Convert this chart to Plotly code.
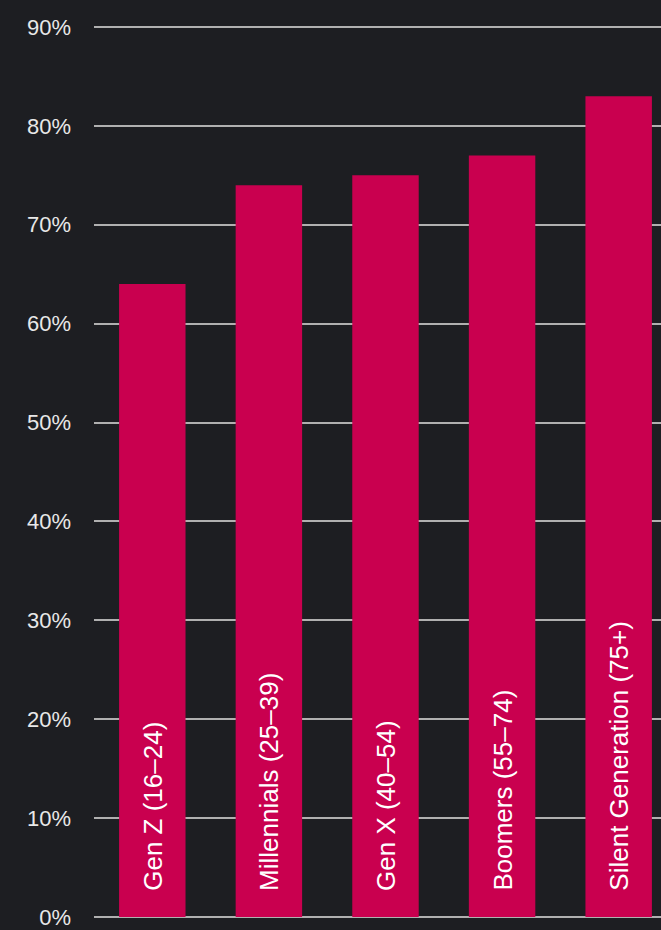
import plotly.graph_objects as go

categories = ["Gen Z (16–24)", "Millennials (25–39)", "Gen X (40–54)", "Boomers (55–74)", "Silent Generation (75+)"]
values = [64, 74, 75, 77, 83]
tick_vals = [0, 10, 20, 30, 40, 50, 60, 70, 80, 90]
tick_text = [f"{v}%" for v in tick_vals]

BG = "#1d1e22"
BAR = "#c9004f"
GRID = "#b0b0b0"
FONT = "Liberation Sans, Arial, sans-serif"

fig = go.Figure()
fig.add_trace(go.Bar(
    x=list(range(len(categories))),
    y=values,
    marker=dict(color=BAR, line=dict(width=0)),
    hoverinfo="skip",
))

for i, c in enumerate(categories):
    fig.add_annotation(
        x=i, y=0, xref="x", yref="y",
        text=c, showarrow=False, textangle=-90,
        xanchor="center", yanchor="bottom", yshift=24,
        font=dict(family=FONT, size=26, color="#ffffff"),
    )

fig.update_layout(
    width=661, height=930,
    margin=dict(l=94, r=0, t=25, b=8),
    paper_bgcolor=BG, plot_bgcolor=BG,
    bargap=0.43,
    showlegend=False,
    font=dict(family=FONT, color="#e8e8e8"),
)
fig.update_xaxes(
    range=[-0.5, 4.363], showticklabels=False, showgrid=False,
    zeroline=False, showline=False, ticks="",
)
fig.update_yaxes(
    range=[0, 90.2], tickvals=tick_vals, ticktext=tick_text,
    showgrid=True, gridcolor=GRID, gridwidth=1.5,
    zeroline=True, zerolinecolor=GRID, zerolinewidth=1.5,
    showline=False, ticks="",
    ticklabelstandoff=22, ticklabeloverflow="allow",
    tickfont=dict(family=FONT, size=22, color="#e8e8e8"),
)

fig.write_html(
    "out.html",
    config={"displayModeBar": False},
    post_script="document.body.style.margin='0';document.body.style.background='%s';" % BG,
)
